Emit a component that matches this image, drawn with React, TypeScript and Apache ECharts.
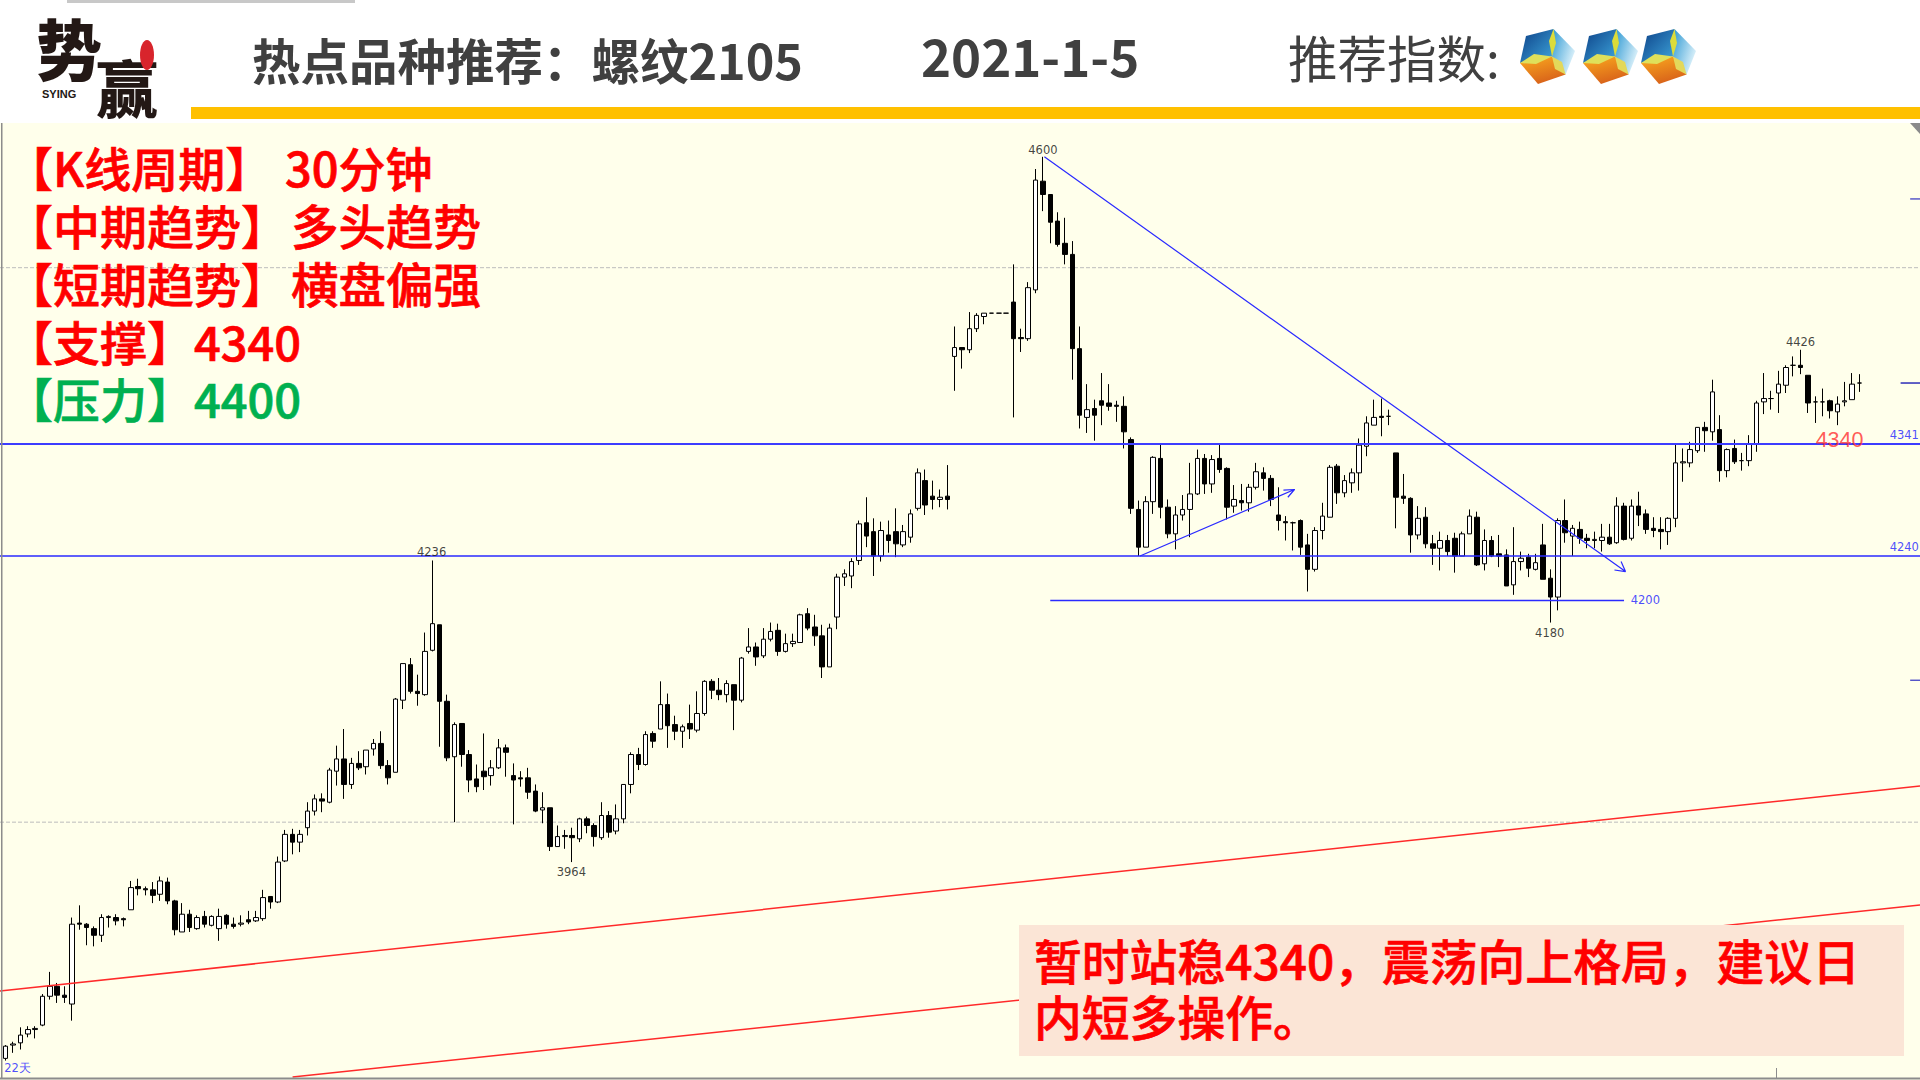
import React, { useEffect, useRef } from "react";
import * as echarts from "echarts";

const opens = [
  3787,3799,3801,3809,3813,3817,3843,3852,3844,3836,
  3909,3908,3904,3898,3914,3914,3913,3921,3942,3940,
  3939,3935,3946,3929,3901,3917,3904,3915,3907,3904,
  3916,3908,3908,3912,3911,3913,3933,3928,3965,3989,
  3982,3995,4010,4021,4018,4046,4057,4034,4053,4050,
  4066,4071,4051,4045,4110,4142,4118,4115,4155,4178,
  4109,4059,4089,4061,4039,4046,4042,4049,4067,4042,
  4040,4040,4028,4011,4013,3978,3987,3988,3985,4003,
  3997,3986,4006,3992,4003,4034,4061,4052,4080,4084,
  4106,4088,4082,4089,4083,4098,4127,4119,4115,4124,
  4110,4154,4158,4150,4165,4173,4154,4161,4162,4188,
  4176,4168,4140,4185,4221,4222,4236,4270,4262,4240,
  4259,4262,4250,4257,4283,4308,4294,4291,4294,4420,
  4428,4426,4445,4456,4459,4459,4459,4469,4437,4436,
  4480,4578,4566,4542,4522,4512,4427,4365,4373,4380,
  4378,4376,4375,4345,4282,4248,4289,4328,4284,4260,
  4277,4282,4296,4328,4305,4328,4319,4285,4290,4288,
  4302,4315,4310,4277,4271,4270,4272,4250,4228,4263,
  4275,4321,4297,4306,4315,4339,4358,4366,4366,4333,
  4294,4292,4259,4275,4251,4247,4254,4256,4240,4260,
  4275,4233,4254,4242,4241,4214,4235,4239,4228,4250,
  4220,4203,4272,4258,4264,4256,4254,4254,4257,4252,
  4285,4256,4285,4278,4265,4264,4262,4274,4324,4324,
  4335,4356,4352,4354,4317,4337,4326,4326,4341,4379,
  4382,4387,4394,4412,4412,4403,4379,4379,4380,4370,
  4379,4381,4396,
];
const closes = [
  3798,3800,3808,3813,3814,3843,3852,3844,3842,3908,
  3908,3905,3898,3914,3915,3911,3912,3941,3940,3939,
  3934,3947,3929,3903,3917,3905,3914,3908,3915,3915,
  3908,3906,3909,3910,3914,3932,3928,3964,3989,3982,
  3989,4010,4021,4019,4047,4057,4034,4053,4049,4065,
  4071,4051,4040,4111,4143,4118,4116,4154,4179,4109,
  4058,4088,4061,4038,4032,4041,4049,4067,4063,4038,
  4039,4027,4010,4013,3978,3987,3988,3986,4003,3997,
  3987,4006,3991,4003,4034,4061,4052,4079,4073,4106,
  4087,4082,4086,4084,4098,4127,4119,4115,4125,4110,
  4148,4158,4149,4165,4172,4154,4161,4163,4187,4175,
  4168,4140,4175,4221,4224,4235,4269,4258,4240,4263,
  4254,4251,4262,4278,4315,4286,4291,4293,4291,4428,
  4426,4445,4457,4459,4459,4459,4459,4436,4436,4482,
  4579,4566,4541,4521,4512,4427,4367,4372,4367,4376,
  4375,4375,4352,4283,4248,4289,4329,4284,4260,4277,
  4282,4296,4328,4305,4327,4318,4284,4291,4288,4302,
  4316,4310,4291,4272,4270,4270,4248,4228,4263,4276,
  4320,4297,4308,4315,4340,4360,4365,4365,4366,4293,
  4292,4259,4274,4251,4247,4254,4244,4240,4260,4276,
  4232,4254,4240,4240,4213,4235,4238,4229,4234,4219,
  4203,4272,4261,4265,4256,4254,4255,4257,4251,4285,
  4255,4285,4277,4264,4263,4262,4274,4324,4325,4336,
  4356,4353,4388,4317,4336,4325,4326,4341,4378,4382,
  4382,4395,4410,4412,4410,4378,4379,4379,4371,4377,
  4380,4395,4396,
];
const lows = [
  3785,3792,3795,3806,3805,3816,3840,3837,3837,3821,
  3903,3889,3888,3892,3905,3907,3906,3921,3934,3934,
  3927,3929,3926,3898,3901,3901,3903,3905,3906,3893,
  3904,3904,3906,3908,3910,3911,3922,3927,3964,3971,
  3973,3988,4006,4009,4017,4033,4021,4030,4047,4043,
  4060,4048,4034,4045,4102,4116,4105,4114,4154,4068,
  4055,4000,4050,4027,4027,4029,4033,4048,4041,3998,
  4032,4021,4009,3999,3974,3978,3976,3964,3982,3990,
  3978,3984,3986,3989,3999,4026,4047,4051,4067,4084,
  4067,4074,4067,4075,4081,4096,4111,4110,4108,4083,
  4108,4152,4141,4148,4163,4150,4153,4158,4162,4173,
  4159,4130,4140,4174,4213,4211,4232,4248,4222,4235,
  4243,4239,4248,4252,4281,4277,4282,4284,4282,4389,
  4409,4423,4442,4449,4459,4459,4459,4365,4424,4434,
  4477,4551,4522,4519,4503,4399,4355,4351,4344,4358,
  4371,4361,4337,4278,4240,4248,4278,4274,4256,4246,
  4272,4257,4295,4296,4297,4315,4273,4279,4281,4280,
  4300,4299,4285,4263,4254,4245,4241,4208,4226,4255,
  4275,4287,4293,4297,4299,4330,4358,4348,4358,4265,
  4287,4243,4255,4247,4232,4227,4240,4225,4240,4260,
  4231,4227,4239,4230,4213,4205,4227,4221,4227,4219,
  4180,4191,4252,4240,4251,4247,4247,4244,4250,4251,
  4254,4254,4267,4260,4257,4246,4250,4266,4307,4320,
  4333,4334,4344,4307,4311,4323,4317,4321,4334,4368,
  4372,4369,4387,4402,4404,4369,4360,4366,4364,4358,
  4375,4381,4388,
];
const highs = [
  3799,3802,3815,3816,3816,3845,3865,3855,3852,3914,
  3925,3909,3906,3917,3916,3917,3914,3947,3949,3942,
  3946,3951,3950,3930,3927,3921,3916,3920,3916,3922,
  3917,3914,3916,3920,3920,3939,3933,3969,3993,3994,
  3993,4018,4025,4026,4049,4069,4084,4058,4064,4065,
  4075,4082,4056,4112,4143,4148,4133,4171,4236,4178,
  4115,4090,4089,4065,4052,4080,4056,4075,4070,4053,
  4046,4049,4034,4027,4013,3997,3993,3995,4004,4005,
  3999,4018,4010,4016,4034,4063,4067,4082,4082,4127,
  4116,4096,4088,4106,4118,4128,4129,4130,4128,4124,
  4149,4175,4162,4175,4180,4179,4170,4170,4188,4193,
  4187,4178,4179,4224,4228,4238,4272,4293,4274,4271,
  4272,4283,4268,4282,4319,4318,4308,4300,4322,4447,
  4428,4460,4459,4459,4459,4459,4459,4503,4445,4487,
  4589,4600,4566,4550,4545,4524,4447,4395,4381,4405,
  4395,4380,4384,4347,4290,4294,4330,4341,4291,4285,
  4295,4324,4336,4332,4331,4341,4320,4304,4305,4305,
  4324,4320,4313,4302,4276,4271,4273,4260,4266,4288,
  4322,4323,4313,4319,4346,4366,4381,4382,4372,4333,
  4314,4293,4285,4284,4259,4262,4259,4261,4262,4282,
  4280,4264,4258,4259,4246,4266,4244,4242,4242,4269,
  4228,4274,4291,4268,4271,4260,4262,4269,4269,4293,
  4288,4291,4298,4282,4275,4275,4275,4341,4337,4343,
  4356,4361,4399,4367,4337,4345,4333,4349,4380,4405,
  4389,4407,4412,4420,4426,4403,4384,4391,4381,4384,
  4397,4405,4404,
];

const priceMin = 3767.5;
const priceMax = 4741.4;
const barPitch = 7.356;
const firstBarX = 5.7;
const blankBars = 7;
const idxLeft = -firstBarX / barPitch;
const idxRight = (1920 - firstBarX) / barPitch;

// levels & trend lines: [barIndex, price] pairs
const support = [[idxLeft, 4341], [idxRight, 4341]];
const level4240 = [[idxLeft, 4240], [idxRight, 4240]];
const level4200 = [[142, 4200], [220, 4200]];
const risingArrow = [[154.2, 4240], [175.2, 4300], [173.7, 4299.5], [175.2, 4300], [174.3, 4293]];
const fallingArrow = [[141.2, 4600], [220.2, 4226], [218.7, 4227.4], [220.2, 4226], [219.6, 4235]];
const channelUpper = [[idxLeft, 3847.8], [idxRight, 4032.6]];
const channelLower = [[39, 3770.2], [idxRight, 3925.3]];
const grid4500 = [[idxLeft, 4500], [idxRight, 4500]];
const grid4000 = [[idxLeft, 4000], [idxRight, 4000]];
const tickA = [[258.9, 4562], [idxRight, 4562]];
const tickB = [[257.6, 4396], [idxRight, 4396]];
const tickC = [[258.9, 4128], [idxRight, 4128]];

const priceLabels: [string, number, number][] = [
  ["4600", 141, 4606],
  ["4236", 57.9, 4244],
  ["3964", 76.9, 3955],
  ["4180", 209.9, 4171],
  ["4426", 244, 4433],
];
const levelLabels: [string, number, number][] = [
  ["4341", 258.1, 4349],
  ["4240", 258.1, 4248],
  ["4200", 222.9, 4200],
  ["22天", 1.6, 3778],
];
const redLabels: [string, number, number][] = [["4340", 249.3, 4345]];

const SANS = '"Noto Sans CJK SC", sans-serif';
const BLUE = "#3c3cff";
const RED = "#ff0000";

const lineSeries = (data: number[][], color: string, width: number, z: number, type = "solid") => ({
  type: "line",
  xAxisIndex: 1,
  yAxisIndex: 1,
  data,
  showSymbol: false,
  symbol: "none",
  silent: true,
  z,
  clip: true,
  lineStyle: { color, width, type },
});

const labelSeries = (rows: [string, number, number][], color: string, font: string, size: number) => ({
  type: "scatter",
  xAxisIndex: 1,
  yAxisIndex: 1,
  symbolSize: 1,
  z: 20,
  silent: true,
  clip: false,
  itemStyle: { color: "transparent" },
  data: rows.map(([t, x, y]) => ({ value: [x, y], name: t })),
  label: {
    show: true,
    position: "inside",
    formatter: (p: any) => p.name,
    color,
    fontFamily: font,
    fontSize: size,
  },
});

const txt = (text: string, x: number, y: number, size: number, fill: string, weight: any = "bold", family = SANS, align = "left") => ({
  type: "text",
  z: 60,
  x,
  y,
  style: { text, fontSize: size, fontWeight: weight, fontFamily: family, fill, align, verticalAlign: "middle" },
});

// medium-weight note text, thickened a little with an outline of its own colour
const note = (text: string, x: number, y: number, size: number, fill: string) => {
  const t: any = txt(text, x, y, size, fill, 500);
  t.style.stroke = fill;
  t.style.lineWidth = 0.7;
  return t;
};

const grad = (x0: number, y0: number, x1: number, y1: number, a: string, b: string) =>
  new (echarts.graphic as any).LinearGradient(x0, y0, x1, y1, [
    { offset: 0, color: a },
    { offset: 1, color: b },
  ]);

const cube = (x: number, y: number) => ({
  type: "group",
  x,
  y,
  z: 60,
  children: [
    { type: "polygon", z: 60, shape: { points: [[6, 7], [33.5, 0], [32, 27.5], [0, 34]] }, style: { fill: grad(0, 0, 1, 1, "#0b3f86", "#3fa6dc") } },
    { type: "polygon", z: 60, shape: { points: [[33.5, 0], [55, 22], [45.6, 45.6], [32, 27.5]] }, style: { fill: grad(0, 0, 1, 0.6, "#2b97d2", "#dff3fb") } },
    { type: "polygon", z: 60, shape: { points: [[0, 34], [32, 27.5], [45.6, 45.6], [18, 55]] }, style: { fill: grad(0, 0, 0.4, 1, "#fbab1e", "#d9641a") } },
    { type: "polygon", z: 61, shape: { points: [[32, 27.5], [29, 12], [33.5, 0], [36, 14]] }, style: { fill: "#dcdc3a" } },
    { type: "polygon", z: 61, shape: { points: [[32, 27.5], [14, 25], [0, 34], [16, 35]] }, style: { fill: "#dfe05a" } },
    { type: "polygon", z: 61, shape: { points: [[32, 27.5], [42, 33], [45.6, 45.6], [35, 40]] }, style: { fill: "#e3d85a" } },
  ],
});

export default function App() {
  const ref = useRef<HTMLDivElement>(null);
  useEffect(() => {
    document.body.style.margin = "0";
    const chart = echarts.init(ref.current!, undefined, { renderer: "svg" });
    const categories = Array.from({ length: opens.length + blankBars }, (_, i) => String(i + 1));
    const candles = opens.map((o, i) => [o, closes[i], lows[i], highs[i]]);
    chart.setOption({
      animation: false,
      backgroundColor: "#FFFFEB",
      grid: [
        { left: firstBarX - barPitch / 2, top: 0, width: barPitch * categories.length, height: 1080, show: false },
        { left: 0, top: 0, width: 1920, height: 1080, show: false },
      ],
      xAxis: [
        { type: "category", gridIndex: 0, data: categories, show: false, boundaryGap: true },
        { type: "value", gridIndex: 1, min: idxLeft, max: idxRight, show: false },
      ],
      yAxis: [
        { type: "value", gridIndex: 0, min: priceMin, max: priceMax, show: false, splitLine: { show: false } },
        { type: "value", gridIndex: 1, min: priceMin, max: priceMax, show: false, splitLine: { show: false } },
      ],
      series: [
        lineSeries(grid4500, "#bdbdbd", 1, 1, "dashed"),
        lineSeries(grid4000, "#bdbdbd", 1, 1, "dashed"),
        {
          type: "candlestick",
          xAxisIndex: 0,
          yAxisIndex: 0,
          z: 5,
          barWidth: 5,
          silent: true,
          data: candles,
          itemStyle: { color: "#ffffff", color0: "#000000", borderColor: "#000000", borderColor0: "#000000", borderWidth: 1 },
        },
        lineSeries(support, BLUE, 2, 10),
        lineSeries(level4240, "#2a2aff", 1.5, 10),
        lineSeries(level4200, "#2a2aff", 1.5, 10),
        lineSeries(risingArrow, "#2a2aff", 1.2, 10),
        lineSeries(fallingArrow, "#2a2aff", 1.2, 10),
        lineSeries(channelUpper, "#ff2a2a", 1.5, 10),
        lineSeries(channelLower, "#ff2a2a", 1.5, 10),
        lineSeries(tickA, "#3030c0", 1.2, 10),
        lineSeries(tickB, "#5050c0", 1.8, 10),
        lineSeries(tickC, "#3030c0", 1.2, 10),
        labelSeries(priceLabels, "#111111", '"DejaVu Sans", sans-serif', 11.5),
        labelSeries(levelLabels, "#2020ff", '"DejaVu Sans", sans-serif', 11.5),
        labelSeries(redLabels, "#ff3030", '"Liberation Sans", sans-serif', 21.5),
      ],
      graphic: [
        { type: "rect", z: 50, shape: { x: 0, y: 0, width: 1920, height: 123 }, style: { fill: "#ffffff" } },
        { type: "rect", z: 51, shape: { x: 67, y: 0, width: 288, height: 3 }, style: { fill: "#c8c8c8" } },
        { type: "rect", z: 51, shape: { x: 191, y: 107, width: 1729, height: 12 }, style: { fill: "#FFC000" } },
        { type: "rect", z: 51, shape: { x: 1, y: 123, width: 1.5, height: 955 }, style: { fill: "#8c8c8c" } },
        { type: "rect", z: 51, shape: { x: 0, y: 1077.5, width: 1920, height: 2 }, style: { fill: "#8c8c8c" } },
        { type: "rect", z: 51, shape: { x: 1776, y: 1068, width: 1, height: 10 }, style: { fill: "#8c8c8c" } },
        { type: "polygon", z: 51, shape: { points: [[1910, 123], [1920, 123], [1920, 134]] }, style: { fill: "#8a8a8a" } },

        // logo
        txt("势", 36, 46, 66, "#231815", 900),
        txt("赢", 96, 86, 62, "#231815", 900),
        txt("SYING", 42, 94, 11, "#231815", "bold", '"Liberation Sans", sans-serif'),
        { type: "ellipse", z: 61, shape: { cx: 147, cy: 55, rx: 7, ry: 15 }, style: { fill: "#d8242c" } },
        txt("交", 147, 47, 8, "#ffffff", "normal", SANS, "center"),
        txt("易", 147, 61, 8, "#ffffff", "normal", SANS, "center"),

        // header
        txt("热点品种推荐：螺纹2105", 252, 59, 48.5, "#404040"),
        txt("2021-1-5", 921, 55, 51, "#404040"),
        txt("推荐指数:", 1288, 56, 49.5, "#404040", "normal"),
        cube(1520, 29),
        cube(1583, 29),
        cube(1641, 29),

        // left notes
        note("【K线周期】", 6, 166, 47, RED),
        note("30分钟", 285, 166, 47, RED),
        note("【中期趋势】", 6, 224, 47, RED),
        note("多头趋势", 291, 224, 47.5, RED),
        note("【短期趋势】", 6, 282, 47, RED),
        note("横盘偏强", 291, 282, 47.5, RED),
        note("【支撑】", 6, 340, 47, RED),
        note("4340", 194, 340, 47, RED),
        note("【压力】", 6, 397, 47, "#00B050"),
        note("4400", 194, 397, 47, "#00B050"),

        // note box
        { type: "rect", z: 50, shape: { x: 1019, y: 925, width: 885, height: 131 }, style: { fill: "#FBE5D6" } },
        note("暂时站稳4340，震荡向上格局，建议日", 1034, 959, 47.8, RED),
        note("内短多操作。", 1034, 1015, 47.8, RED),
      ],
    });
    return () => chart.dispose();
  }, []);
  return <div ref={ref} style={{ width: 1920, height: 1080 }} />;
}
